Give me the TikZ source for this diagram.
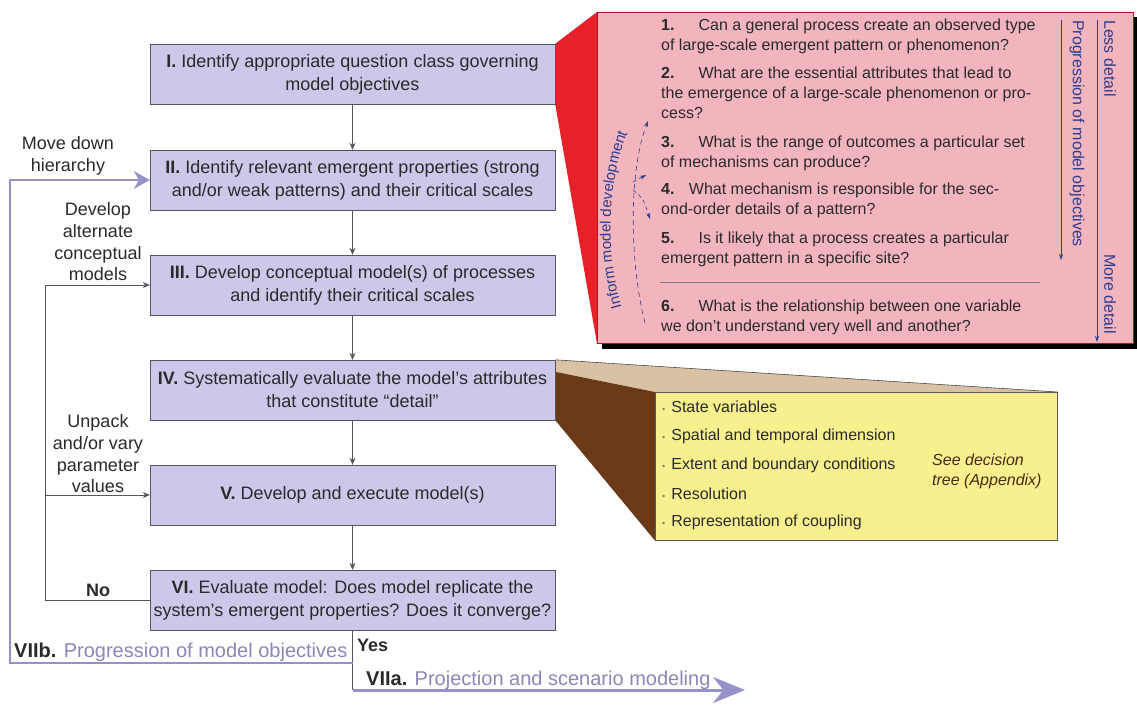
\documentclass[tikz,border=0pt]{standalone}
\usepackage{fontspec}
\setmainfont{Liberation Sans}
\usetikzlibrary{arrows.meta,positioning,decorations.text}
\pgfdeclarelayer{bg}
\pgfsetlayers{bg,main}

\definecolor{boxfill}{HTML}{CBC8E9}
\definecolor{boxline}{HTML}{55555F}
\definecolor{lav}{HTML}{9591C9}
\definecolor{lavtxt}{HTML}{8B88B8}
\definecolor{funred}{HTML}{E8202A}
\definecolor{pinkfill}{HTML}{F3B5BD}
\definecolor{qblue}{HTML}{2F3C8E}
\definecolor{yelfill}{HTML}{F8F08F}
\definecolor{funtan}{HTML}{D8C2A3}
\definecolor{funbrown}{HTML}{6A3A18}
\definecolor{txt}{HTML}{2A2A2A}

\begin{document}
\begin{tikzpicture}[>=Stealth,x=1pt,y=-1pt,
  stage/.style={draw=boxline,fill=boxfill,minimum width=405pt,minimum height=60pt,
                align=center,inner sep=2pt,text=txt,font=\fontsize{18}{23}\selectfont},
  lbl/.style={align=center,text=txt,font=\fontsize{18}{21.7}\selectfont},
  flow/.style={draw=boxline,line width=0.8pt,-{Stealth[length=7pt,width=6pt]}},
  loopline/.style={draw=lav,line width=2.2pt},
  qtxt/.style={anchor=north west,align=left,inner sep=0pt,text=txt,
               font=\fontsize{16}{20}\selectfont},
  qarr/.style={draw=qblue,line width=0.8pt,-{Stealth[length=6pt,width=4pt]}},
  side/.style={rotate=-90,inner sep=0pt,text=qblue,font=\fontsize{16}{19}\selectfont},
  item/.style={anchor=west,inner sep=0pt,text=txt,font=\fontsize{16}{19}\selectfont}]
\useasboundingbox (0,0) rectangle (1137,705);
\begin{pgfonlayer}{bg}
\fill[white] (0,0) rectangle (1137,705);
\end{pgfonlayer}

% main stages
\node[stage] (s1) at (352.5,74) {\textbf{I.} Identify appropriate question class governing\\model objectives};
\node[stage] (s2) at (352.5,180) {\textbf{II.} Identify relevant emergent properties (strong\\and/or weak patterns) and their critical scales};
\node[stage] (s3) at (352.5,285) {\textbf{III.} Develop conceptual model(s) of processes\\and identify their critical scales};
\node[stage] (s4) at (352.5,390) {\textbf{IV.} Systematically evaluate the model's attributes\\that constitute “detail”};
\node[stage] (s5) at (352.5,495) {\textbf{V.} Develop and execute model(s)};
\node[stage] (s6) at (352.5,600) {\textbf{VI.} Evaluate model: Does model replicate the\\system's emergent properties? Does it converge?};

\draw[flow] (s1) -- (s2);
\draw[flow] (s2) -- (s3);
\draw[flow] (s3) -- (s4);
\draw[flow] (s4) -- (s5);
\draw[flow] (s5) -- (s6);

% inner loops
\coordinate (nx) at (45,600);
\draw[flow] (s6.west) -- (nx) |- (s3.west);
\draw[flow] (nx |- s5.west) -- (s5.west);
\node[lbl] (alt) at (98,242) {Develop\\alternate\\conceptual\\models};
\node[lbl] (unp) at (98,454) {Unpack\\and/or vary\\parameter\\values};
\node[lbl,font=\bfseries\fontsize{18}{20}\selectfont] (no) at (98,590) {No};

% outer loop and exit
\coordinate (jn) at (352.5,663);
\coordinate (ox) at (10,663);
\coordinate (ya) at (352.5,690);
\coordinate (yend) at (745,690);
\draw[boxline,line width=0.8pt] (s6.south) -- (ya);
\draw[loopline,-{Stealth[length=16pt,width=18pt]}] (jn) -- (ox) |- (s2.west);
\draw[loopline,line width=3pt,-{Stealth[length=32pt,width=26pt]}] (ya) -- (yend);
\node[lbl] (mdh) at (68,156) {Move down\\hierarchy};
\node[anchor=west,inner sep=0pt,text=txt,font=\bfseries\fontsize{18}{20}\selectfont] (yes) at (357,645) {Yes};
\node[anchor=west,inner sep=0pt,text=txt,font=\fontsize{20}{22}\selectfont] (vb) at (14,652)
  {\textbf{VIIb.} \textcolor{lavtxt}{Progression of model objectives}};
\node[anchor=west,inner sep=0pt,text=txt,font=\fontsize{20}{22}\selectfont] (va) at (366,680)
  {\textbf{VIIa.} \textcolor{lavtxt}{Projection and scenario modeling}};

% question panel
\fill[black] (602,17) rectangle (1140,349);
\node[draw=funred!75!black,line width=0.6pt,fill=pinkfill,anchor=north west,inner sep=0pt,
      minimum width=536pt,minimum height=331pt] (pk) at (597,12) {};
\begin{pgfonlayer}{bg}
\fill[funred] (s1.north east) -- (pk.north west) -- (pk.south west) -- (s1.south east) -- cycle;
\end{pgfonlayer}
\node[qtxt] (q1) at (661,19) {\textbf{1.}\hspace{1.5em}Can a general process create an observed type\\of large-scale emergent pattern or phenomenon?};
\node[qtxt] (q2) at (661,67) {\textbf{2.}\hspace{1.5em}What are the essential attributes that lead to\\the emergence of a large-scale phenomenon or pro-\\cess?};
\node[qtxt] (q3) at (661,136) {\textbf{3.}\hspace{1.5em}What is the range of outcomes a particular set\\of mechanisms can produce?};
\node[qtxt] (q4) at (661,183) {\textbf{4.}\hspace{0.9em}What mechanism is responsible for the sec-\\ond-order details of a pattern?};
\node[qtxt] (q5) at (661,232) {\textbf{5.}\hspace{1.5em}Is it likely that a process creates a particular\\emergent pattern in a specific site?};
\node[qtxt] (q6) at (661,300) {\textbf{6.}\hspace{1.5em}What is the relationship between one variable\\we don't understand very well and another?};
\draw[gray,line width=0.6pt] (660,282) -- (1040,282);

% detail arrows
\coordinate (pa) at (1061,20);
\coordinate (pb) at (1061,260);
\coordinate (da) at (1097,20);
\coordinate (db) at (1097,342);
\draw[qarr] (pa) -- (pb);
\draw[qarr] (da) -- (db);
\node[side,anchor=west] (prog) at (1077,20) {Progression of model objectives};
\node[side,anchor=west] (less) at (1110,20) {Less detail};
\node[side,anchor=east] (more) at (1110,334) {More detail};

% inform model development
\path[decorate,decoration={text along path,text align=center,
  text={|\fontsize{15}{15}\selectfont\color{qblue}|Inform model development}}]
  (630,330) .. controls (603,270) and (603,170) .. (638,112);
\coordinate (ia) at (645,323);
\coordinate (ib) at (648,121);
\coordinate (ic) at (633,182);
\coordinate (id) at (646,175);
\coordinate (ie) at (633,190);
\coordinate (if) at (650,219);
\draw[qarr,line width=0.6pt,dash pattern=on 5pt off 4pt] (ia) .. controls (629,260) and (629,170) .. (ib);
\draw[qarr,line width=0.6pt,dash pattern=on 4pt off 3pt] (ic) -- (id);
\draw[qarr,line width=0.6pt,dash pattern=on 4pt off 3pt] (ie) .. controls (643,198) .. (if);

% detail panel
\node[draw=gray!70!black,line width=0.6pt,fill=yelfill,anchor=north west,inner sep=0pt,
      minimum width=402pt,minimum height=148pt] (yp) at (655,392) {};
\coordinate (t4) at ([yshift=-12pt]s4.north east);
\begin{pgfonlayer}{bg}
\fill[funtan] (s4.north east) -- (yp.north east) -- (yp.north west) -- (t4) -- cycle;
\draw[gray!60!black,line width=0.6pt] (s4.north east) -- (yp.north east);
\fill[funbrown] (t4) -- (yp.north west) -- (yp.south west) -- (s4.south east) -- cycle;
\end{pgfonlayer}
\node[item] (y1) at (662,407) {\textcolor{gray}{\small\textbullet}\hspace{6pt}State variables};
\node[item] (y2) at (662,436) {\textcolor{gray}{\small\textbullet}\hspace{6pt}Spatial and temporal dimension};
\node[item] (y3) at (662,465) {\textcolor{gray}{\small\textbullet}\hspace{6pt}Extent and boundary conditions};
\node[item] (y4) at (662,494) {\textcolor{gray}{\small\textbullet}\hspace{6pt}Resolution};
\node[item] (y5) at (662,522) {\textcolor{gray}{\small\textbullet}\hspace{6pt}Representation of coupling};
\node[item,align=left,text=funbrown!70!black,font=\itshape\fontsize{16}{20}\selectfont] (see) at (932,471)
  {See decision\\tree (Appendix)};
\end{tikzpicture}
\end{document}
